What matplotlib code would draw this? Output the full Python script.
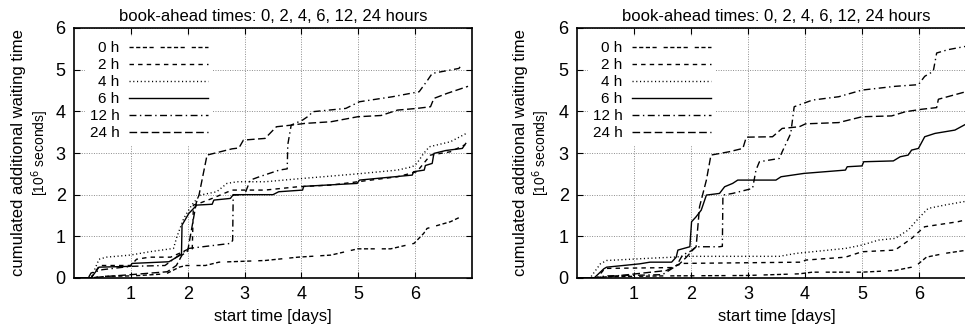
import numpy as np
import matplotlib
matplotlib.use("Agg")
import matplotlib.pyplot as plt

plt.rcParams['font.family'] = ['Liberation Sans', 'DejaVu Sans']

# ---------- data ----------

labels = ["0 h", "2 h", "4 h", "6 h", "12 h", "24 h"]
title = "book-ahead times: 0, 2, 4, 6, 12, 24 hours"
xticks = [1, 2, 3, 4, 5, 6]
yticks = [0, 1, 2, 3, 4, 5, 6]

# left panel
L0_x = [0.0, 0.3, 0.5, 1.0, 1.15, 1.62, 1.85, 1.97, 2.31, 2.55, 3.36, 3.94, 4.52, 4.99, 5.57, 5.98, 6.15, 6.21, 6.62, 6.85]
L0_y = [0.0, 0.0, 0.04, 0.05, 0.06, 0.1, 0.26, 0.3, 0.3, 0.38, 0.42, 0.5, 0.55, 0.7, 0.7, 0.83, 1.07, 1.19, 1.35, 1.5]
L2_x = [0.0, 0.3, 0.45, 1.0, 1.1, 1.33, 1.7, 1.85, 2.02, 2.08, 2.1, 2.2, 2.43, 2.78, 3.36, 3.94, 4.52, 4.99, 5.69, 6.03, 6.27, 6.62, 6.88]
L2_y = [0.0, 0.0, 0.3, 0.3, 0.45, 0.5, 0.5, 0.59, 0.7, 0.7, 1.75, 1.79, 1.91, 2.11, 2.11, 2.19, 2.23, 2.31, 2.43, 2.55, 2.95, 3.03, 3.2]
L4_x = [0.0, 0.3, 0.44, 0.57, 0.99, 1.33, 1.75, 1.81, 1.93, 2.07, 2.22, 2.51, 2.69, 2.87, 3.36, 3.94, 4.99, 5.69, 5.95, 6.03, 6.15, 6.25, 6.62, 6.9]
L4_y = [0.0, 0.0, 0.45, 0.5, 0.55, 0.63, 0.71, 0.99, 1.43, 1.75, 1.99, 2.07, 2.27, 2.31, 2.31, 2.38, 2.5, 2.59, 2.67, 2.75, 2.99, 3.15, 3.27, 3.47]
L6_x = [0.0, 0.3, 0.44, 0.99, 1.02, 1.67, 1.87, 1.89, 1.9, 2.02, 2.16, 2.43, 2.46, 2.75, 2.8, 3.5, 3.6, 4.02, 4.04, 4.98, 5.02, 5.95, 5.97, 6.16, 6.18, 6.3, 6.33, 6.54, 6.83, 6.89]
L6_y = [0.0, 0.0, 0.26, 0.28, 0.35, 0.39, 0.55, 0.55, 1.27, 1.55, 1.75, 1.77, 1.87, 1.91, 2.0, 2.0, 2.07, 2.11, 2.2, 2.27, 2.35, 2.47, 2.55, 2.59, 2.7, 2.75, 2.99, 3.06, 3.11, 3.23]
L12_x = [0.0, 0.25, 0.3, 0.5, 1.0, 1.6, 1.75, 1.85, 2.02, 2.75, 2.79, 2.8, 3.0, 3.1, 3.26, 3.61, 3.75, 3.76, 3.82, 4.02, 4.14, 4.19, 4.78, 5.02, 5.6, 6.07, 6.22, 6.3, 6.77, 6.82]
L12_y = [0.0, 0.0, 0.12, 0.2, 0.28, 0.3, 0.45, 0.55, 0.71, 0.83, 0.9, 1.99, 2.0, 2.35, 2.43, 2.59, 2.62, 3.2, 3.67, 3.79, 3.9, 3.99, 4.07, 4.23, 4.35, 4.47, 4.75, 4.91, 5.03, 5.12]
L24_x = [0.0, 0.3, 0.5, 1.0, 1.64, 1.8, 1.9, 2.0, 2.15, 2.2, 2.34, 2.78, 2.9, 2.98, 3.36, 3.56, 3.83, 4.06, 4.52, 4.99, 5.4, 5.69, 6.03, 6.27, 6.33, 6.56, 6.93]
L24_y = [0.0, 0.0, 0.03, 0.08, 0.15, 0.3, 0.55, 0.65, 1.8, 2.0, 2.95, 3.1, 3.12, 3.31, 3.35, 3.63, 3.67, 3.71, 3.75, 3.87, 3.9, 4.03, 4.07, 4.11, 4.31, 4.43, 4.6]

# right panel
R0_x = [0.0, 0.3, 0.5, 1.5, 2.97, 3.9, 4.13, 5.0, 5.58, 5.87, 5.99, 6.13, 6.45, 6.9]
R0_y = [0.0, 0.0, 0.03, 0.05, 0.06, 0.1, 0.14, 0.14, 0.18, 0.26, 0.34, 0.5, 0.59, 0.68]
R2_x = [0.0, 0.35, 0.49, 1.65, 1.77, 1.85, 2.56, 3.95, 4.01, 4.71, 5.0, 5.58, 5.87, 5.99, 6.1, 6.68, 6.9]
R2_y = [0.0, 0.0, 0.23, 0.25, 0.31, 0.35, 0.36, 0.38, 0.43, 0.5, 0.63, 0.67, 0.95, 1.1, 1.23, 1.35, 1.42]
R4_x = [0.0, 0.23, 0.41, 0.52, 1.22, 1.69, 1.86, 2.38, 3.55, 3.84, 4.13, 4.71, 5.0, 5.29, 5.58, 5.81, 5.99, 6.16, 6.45, 6.9]
R4_y = [0.0, 0.0, 0.34, 0.42, 0.47, 0.5, 0.52, 0.52, 0.52, 0.59, 0.63, 0.71, 0.79, 0.91, 0.95, 1.15, 1.43, 1.67, 1.75, 1.86]
R6_x = [0.0, 0.3, 0.47, 0.52, 1.1, 1.28, 1.66, 1.74, 1.77, 1.98, 2.01, 2.09, 2.18, 2.27, 2.5, 2.59, 2.73, 2.82, 3.49, 3.58, 3.98, 4.71, 4.74, 5.0, 5.03, 5.55, 5.67, 5.81, 5.87, 5.99, 6.1, 6.28, 6.63, 6.9]
R6_y = [0.0, 0.0, 0.22, 0.26, 0.34, 0.38, 0.38, 0.5, 0.67, 0.75, 1.35, 1.47, 1.63, 1.99, 2.03, 2.19, 2.27, 2.35, 2.35, 2.43, 2.51, 2.59, 2.67, 2.69, 2.79, 2.81, 2.91, 2.95, 3.07, 3.11, 3.39, 3.47, 3.55, 3.75]
R12_x = [0.0, 0.3, 0.5, 1.5, 1.75, 1.85, 2.0, 2.09, 2.5, 2.55, 2.56, 2.73, 3.08, 3.14, 3.2, 3.55, 3.6, 3.75, 3.81, 4.13, 4.59, 5.0, 5.58, 5.99, 6.1, 6.25, 6.31, 6.51, 6.9]
R12_y = [0.0, 0.0, 0.05, 0.08, 0.3, 0.55, 0.65, 0.75, 0.75, 0.76, 1.99, 2.03, 2.15, 2.59, 2.79, 2.87, 3.03, 3.47, 4.11, 4.27, 4.35, 4.51, 4.6, 4.64, 4.84, 4.96, 5.4, 5.48, 5.58]
R24_x = [0.0, 0.3, 0.76, 1.57, 1.8, 1.92, 2.03, 2.09, 2.15, 2.27, 2.35, 2.67, 2.91, 2.97, 3.43, 3.6, 3.9, 4.01, 4.59, 5.0, 5.52, 5.76, 6.05, 6.31, 6.34, 6.9]
R24_y = [0.0, 0.0, 0.06, 0.18, 0.34, 0.5, 0.67, 0.75, 1.71, 2.35, 2.95, 3.03, 3.11, 3.38, 3.39, 3.59, 3.63, 3.7, 3.73, 3.87, 3.89, 3.99, 4.05, 4.09, 4.29, 4.5]

# ---------- styles ----------

dashes = [(3, 1.8, 3, 1.8, 3, 1.8, 3, 5),  # 0 h
          (3.2, 3),                         # 2 h
          (0.8, 1.9),                       # 4 h
          None,                             # 6 h (solid)
          (5, 2.5, 1, 2.5),                 # 12 h
          (5.5, 2.5)]                       # 24 h


def draw_panel(ax, series):
    for (x, y), lab, d in zip(series, labels, dashes):
        line, = ax.plot(x, y, color='black', lw=1.0, label=lab)
        if d is not None:
            line.set_dashes(d)

    ax.set_xlim(0, 7)
    ax.set_ylim(0, 6)
    ax.set_xticks(xticks)
    ax.set_yticks(yticks)
    ax.grid(True, color='0.55', linestyle=(0, (1, 1.5)), lw=0.7)
    ax.tick_params(direction='in', length=4, width=0.8, top=True, right=True,
                   labelsize=13, pad=6)
    for s in ax.spines.values():
        s.set_linewidth(1.2)

    ax.set_title(title, fontsize=12, pad=5)
    ax.set_xlabel("start time [days]", fontsize=12, labelpad=4)

    leg = ax.legend(loc='upper left', markerfirst=False, fontsize=11,
                    handlelength=5.2, handletextpad=0.6, labelspacing=0.2,
                    borderaxespad=0.2, borderpad=0.3, frameon=True,
                    fancybox=False, edgecolor='none', facecolor='white',
                    framealpha=1.0, bbox_to_anchor=(0.02, 0.978))
    leg.set_zorder(5)


fig = plt.figure(figsize=(9.65, 3.31), dpi=100)
ax1 = fig.add_axes([74 / 965, 1 - 278 / 331, 398 / 965, 250 / 331])
ax2 = fig.add_axes([577 / 965, 1 - 278 / 331, 399 / 965, 250 / 331])

draw_panel(ax1, [(L0_x, L0_y), (L2_x, L2_y), (L4_x, L4_y),
                 (L6_x, L6_y), (L12_x, L12_y), (L24_x, L24_y)])
draw_panel(ax2, [(R0_x, R0_y), (R2_x, R2_y), (R4_x, R4_y),
                 (R6_x, R6_y), (R12_x, R12_y), (R24_x, R24_y)])

# two-line y label, gnuplot style
for xpos in (19 / 965, 521 / 965):
    fig.text(xpos, 1 - 153 / 331, "cumulated additional waiting time",
             rotation=90, ha='center', va='center', fontsize=12)
for xpos in (40 / 965, 541 / 965):
    fig.text(xpos, 1 - 153 / 331, r"[10$^6$ seconds]",
             rotation=90, ha='center', va='center', fontsize=10)

fig.savefig("out.png", dpi=100)
